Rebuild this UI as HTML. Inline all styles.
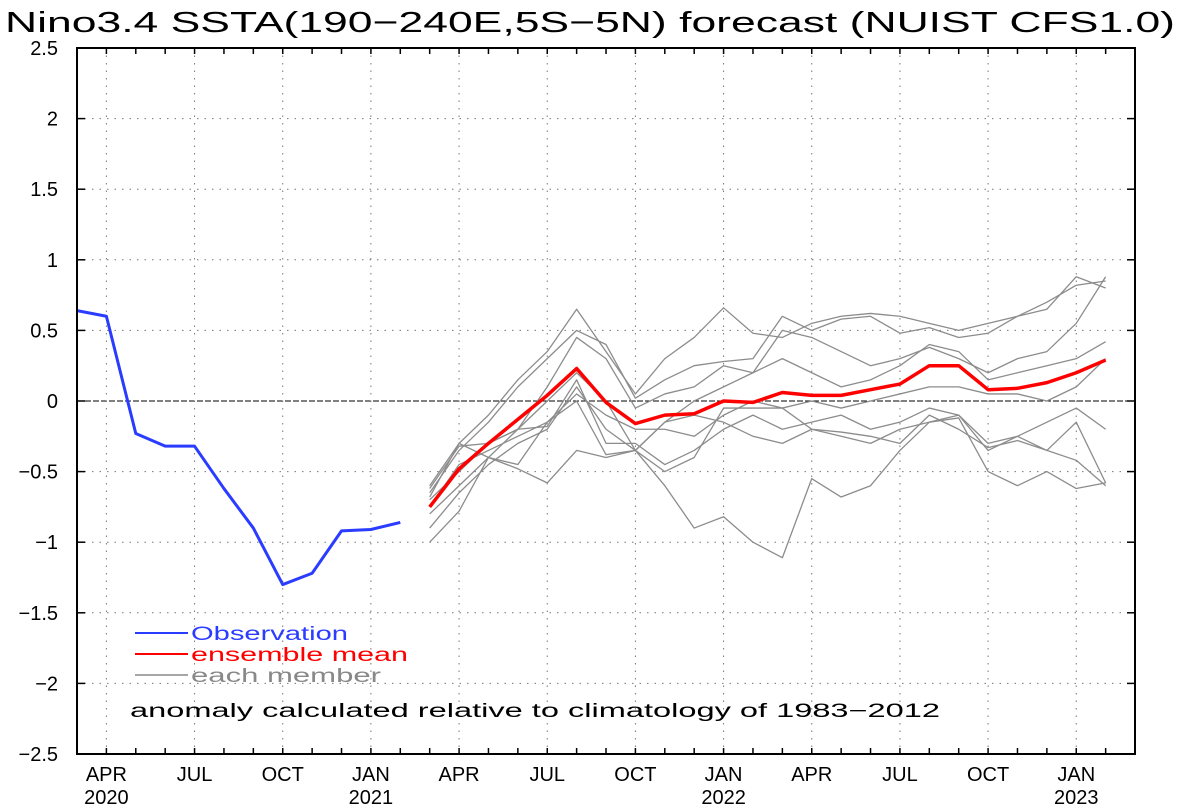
<!DOCTYPE html>
<html><head><meta charset="utf-8"><style>
html,body{margin:0;padding:0;background:#fff;}
svg{display:block;font-family:"Liberation Sans",sans-serif;}
</style></head><body>
<svg id="s" width="1181" height="806" viewBox="0 0 1181 806" xmlns="http://www.w3.org/2000/svg">
<rect width="1181" height="806" fill="#fff"/>
<text x="5" y="32" font-size="29" textLength="1170" lengthAdjust="spacingAndGlyphs">Nino3.4 SSTA(190−240E,5S−5N) forecast (NUIST CFS1.0)</text>
<g id="g"></g>
<rect x="77" y="48" width="1058" height="706" fill="none" stroke="#000" stroke-width="2"/>
<line x1="135" y1="633" x2="188" y2="633" stroke="#2a3cff" stroke-width="2"/>
<text x="191" y="640" font-size="19" fill="#2a3cff" textLength="157" lengthAdjust="spacingAndGlyphs">Observation</text>
<line x1="135" y1="654" x2="188" y2="654" stroke="#f00" stroke-width="2"/>
<text x="191" y="661" font-size="19" fill="#f00" textLength="217" lengthAdjust="spacingAndGlyphs">ensemble mean</text>
<line x1="135" y1="675" x2="188" y2="675" stroke="#888" stroke-width="1.5"/>
<text x="191" y="682" font-size="19" fill="#888" textLength="190" lengthAdjust="spacingAndGlyphs">each member</text>
<text x="130" y="717" font-size="19" textLength="810" lengthAdjust="spacingAndGlyphs">anomaly calculated relative to climatology of 1983−2012</text>
</svg>
<script>
const g=document.getElementById('g');const NS="http://www.w3.org/2000/svg";
const X=i=>77+i*29.39, Y=v=>401-v*141.2;
function el(t,a,txt){const e=document.createElementNS(NS,t);for(const k in a)e.setAttribute(k,a[k]);if(txt!==undefined)e.textContent=txt;g.appendChild(e);return e;}
// y grid & labels
for(let k=-5;k<=5;k++){const v=k/2,y=Y(v);
 if(k>-5&&k<5&&k!==0)el('line',{x1:77,x2:1135,y1:y,y2:y,stroke:'#777','stroke-width':1,'stroke-dasharray':'1.5,6'});
 el('line',{x1:77,x2:85,y1:y,y2:y,stroke:'#000','stroke-width':1.5});
 el('line',{x1:1127,x2:1135,y1:y,y2:y,stroke:'#000','stroke-width':1.5});
 el('text',{x:58,y:y+7,'font-size':20,'text-anchor':'end'},(v<0?'−':'')+Math.abs(v));}
el('line',{x1:77,x2:1135,y1:401,y2:401,stroke:'#000','stroke-width':1,'stroke-dasharray':'6,2'});
// x
const names=['APR','JUL','OCT','JAN'];
for(let i=1,n=0;i<36;i+=3,n++){const x=X(i);
 el('line',{x1:x,x2:x,y1:48,y2:754,stroke:'#777','stroke-width':1,'stroke-dasharray':'1.5,6'});
 el('text',{x:x,y:781,'font-size':20,'text-anchor':'middle'},names[n%4]);}
for(let i=0;i<=36;i++){const x=X(i),l=6;
 el('line',{x1:x,x2:x,y1:754-l,y2:754,stroke:'#000','stroke-width':1.5});
 el('line',{x1:x,x2:x,y1:48,y2:48+l,stroke:'#000','stroke-width':1.5});}
[[1,'2020'],[10,'2021'],[22,'2022'],[34,'2023']].forEach(([i,t])=>el('text',{x:X(i),y:804,'font-size':20,'text-anchor':'middle'},t));
function line(vals,start,col,w){el('polyline',{points:vals.map((v,j)=>X(start+j)+','+Y(v)).join(' '),fill:'none',stroke:col,'stroke-width':w,'stroke-linejoin':'round'});}
const mem=[
[-0.6,-0.3,-0.1,0.15,0.35,0.65,0.35,0.05,0.3,0.45,0.66,0.48,0.45,0.55,0.6,0.62,0.6,0.55,0.5,0.55,0.6,0.65,0.88,0.8],
[-0.65,-0.35,-0.15,0.1,0.3,0.5,0.4,0.02,0.15,0.25,0.28,0.3,0.6,0.5,0.58,0.6,0.48,0.52,0.45,0.48,0.6,0.7,0.82,0.85],
[-0.7,-0.5,-0.3,-0.2,0.1,0.45,0.3,-0.05,0.05,0.1,0.25,0.2,0.5,0.45,0.35,0.25,0.3,0.38,0.3,0.2,0.3,0.35,0.55,0.88],
[-0.8,-0.6,-0.4,-0.2,0.0,0.2,0.0,-0.35,-0.15,0.0,0.1,0.2,0.3,0.2,0.1,0.15,0.25,0.4,0.35,0.15,0.2,0.25,0.3,0.42],
[-0.75,-0.45,-0.35,-0.25,-0.15,0.05,-0.1,-0.2,-0.2,-0.25,-0.1,0.0,-0.05,0.0,-0.05,0.0,0.05,0.1,0.1,0.05,0.05,0.0,0.1,0.3],
[-0.62,-0.32,-0.3,-0.2,-0.18,0.15,-0.3,-0.3,-0.45,-0.35,-0.2,-0.1,-0.2,-0.15,-0.1,-0.2,-0.15,-0.05,-0.1,-0.3,-0.25,-0.15,-0.05,-0.2],
[-0.9,-0.65,-0.45,-0.3,-0.2,0.1,-0.2,-0.35,-0.15,-0.1,-0.15,-0.25,-0.3,-0.2,-0.25,-0.3,-0.2,-0.15,-0.1,-0.35,-0.25,-0.35,-0.15,-0.58],
[-1.0,-0.78,-0.4,-0.48,-0.58,-0.35,-0.4,-0.35,-0.6,-0.9,-0.82,-1.0,-1.11,-0.55,-0.68,-0.6,-0.35,-0.15,-0.12,-0.5,-0.6,-0.5,-0.62,-0.58],
[-0.68,-0.3,-0.4,-0.45,-0.15,0.0,-0.38,-0.35,-0.5,-0.4,-0.05,-0.05,-0.05,-0.2,-0.22,-0.25,-0.3,-0.1,-0.2,-0.33,-0.28,-0.35,-0.42,-0.6]];
mem.forEach(m=>line(m,12,'#8c8c8c',1.3));
line([0.64,0.6,-0.23,-0.32,-0.32,-0.62,-0.9,-1.3,-1.22,-0.92,-0.91,-0.86],0,'#2a3cff',3);
line([-0.75,-0.48,-0.3,-0.13,0.04,0.23,-0.01,-0.16,-0.1,-0.09,0.0,-0.01,0.06,0.04,0.04,0.08,0.12,0.25,0.25,0.08,0.09,0.13,0.2,0.29],12,'#f00',3.5);
</script>
</body></html>
